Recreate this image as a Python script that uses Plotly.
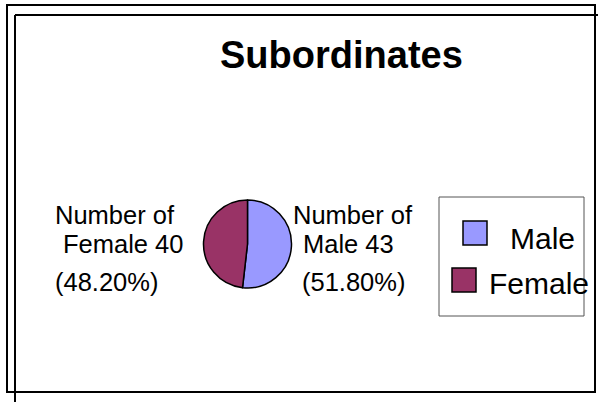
import plotly.graph_objects as go

# ---- data ----
categories = ["Male", "Female"]
counts = [43, 40]
percent_labels = ["51.80%", "48.20%"]
colors = ["#9999FF", "#993366"]
title_text = "Subordinates"

W, H = 598, 402


def px(x):
    return x / W


def py(y):
    return 1 - y / H


FONT = "Liberation Sans, Arial, sans-serif"

fig = go.Figure()
fig.add_trace(
    go.Pie(
        labels=categories,
        values=counts,
        sort=False,
        direction="clockwise",
        rotation=0,
        textinfo="none",
        hoverinfo="label+value+percent",
        marker=dict(colors=colors, line=dict(color="black", width=1.5)),
        domain=dict(x=[px(203.5), px(291.5)], y=[py(288), py(200)]),
        showlegend=False,
    )
)

shapes = []
line_w = 2
# outer frame
shapes.append(dict(type="rect", xref="paper", yref="paper",
                   x0=px(7), x1=px(595), y0=py(392), y1=py(5),
                   line=dict(color="black", width=line_w)))
# inner offset frame lines
shapes.append(dict(type="line", xref="paper", yref="paper",
                   x0=px(15), x1=px(600), y0=py(15), y1=py(15),
                   line=dict(color="black", width=line_w)))
shapes.append(dict(type="line", xref="paper", yref="paper",
                   x0=px(15), x1=px(15), y0=py(15), y1=py(404),
                   line=dict(color="black", width=line_w)))
# legend box
shapes.append(dict(type="rect", xref="paper", yref="paper",
                   x0=px(439), x1=px(584), y0=py(316), y1=py(197),
                   line=dict(color="#555555", width=1)))
# legend swatches
swatch_pos = [(463, 221), (452, 268)]
for (sx, sy), col in zip(swatch_pos, colors):
    shapes.append(dict(type="rect", xref="paper", yref="paper",
                       x0=px(sx), x1=px(sx + 24), y0=py(sy + 24), y1=py(sy),
                       fillcolor=col, line=dict(color="black", width=1.5)))

annotations = []
annotations.append(dict(text="<b>%s</b>" % title_text, x=px(342), y=py(55),
                        xref="paper", yref="paper", showarrow=False,
                        xanchor="center", yanchor="middle",
                        font=dict(family=FONT, size=38, color="black")))

# data labels
label_lines_y = [215, 244, 282]
label_x = {
    "Female": [53, 61, 53],
    "Male": [291, 301, 300],
}
for cat, cnt, pct in zip(categories, counts, percent_labels):
    lines = ["Number of", "%s %d" % (cat, cnt), "(%s)" % pct]
    for t, lx, ly in zip(lines, label_x[cat], label_lines_y):
        annotations.append(dict(text=t, x=px(lx), y=py(ly), xref="paper", yref="paper",
                                showarrow=False, xanchor="left", yanchor="middle",
                                font=dict(family=FONT, size=25.5, color="black")))

# legend texts
legend_text_pos = [(508, 238), (487, 283)]
for cat, (lx, ly) in zip(categories, legend_text_pos):
    annotations.append(dict(text=cat, x=px(lx), y=py(ly), xref="paper", yref="paper",
                            showarrow=False, xanchor="left", yanchor="middle",
                            font=dict(family=FONT, size=30, color="black")))

fig.update_layout(
    width=W, height=H,
    margin=dict(l=0, r=0, t=0, b=0),
    paper_bgcolor="white",
    plot_bgcolor="white",
    shapes=shapes,
    annotations=annotations,
    showlegend=False,
)

fig.write_html("out.html", config={"displayModeBar": False},
               post_script="document.body.style.margin='0px';")
